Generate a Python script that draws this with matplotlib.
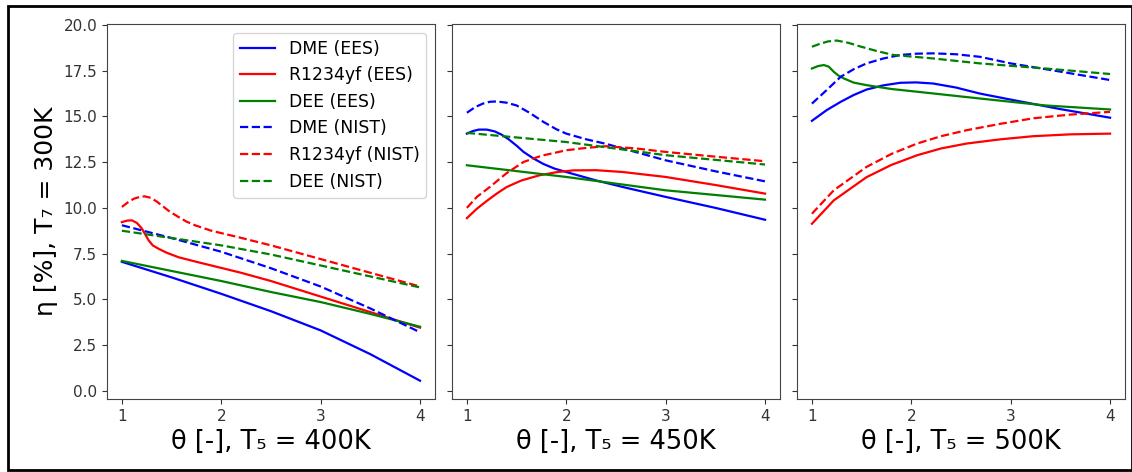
import matplotlib.pyplot as plt
from matplotlib.patches import Rectangle

# T5 = 400K
x400_dme_ees = [1.0, 1.5, 2.0, 2.5, 3.0, 3.5, 4.0]
y400_dme_ees = [7.05, 6.2, 5.3, 4.35, 3.3, 2.0, 0.55]
x400_r_ees = [1.0, 1.05, 1.1, 1.15, 1.2, 1.24, 1.27, 1.31, 1.37, 1.45, 1.57, 1.75, 1.9, 2.2, 2.5, 3.0, 3.5, 4.0]
y400_r_ees = [9.22, 9.3, 9.32, 9.18, 8.88, 8.5, 8.22, 7.95, 7.76, 7.55, 7.3, 7.05, 6.85, 6.45, 6.0, 5.15, 4.3, 3.45]
x400_dee_ees = [1.0, 1.5, 2.0, 2.5, 3.0, 3.5, 4.0]
y400_dee_ees = [7.1, 6.55, 6.0, 5.4, 4.85, 4.2, 3.5]
x400_dme_nist = [1.0, 1.5, 2.0, 2.5, 3.0, 3.5, 4.0]
y400_dme_nist = [9.05, 8.35, 7.6, 6.7, 5.7, 4.5, 3.2]
x400_r_nist = [1.0, 1.06, 1.12, 1.18, 1.23, 1.29, 1.35, 1.4, 1.48, 1.57, 1.65, 1.74, 1.9, 2.17, 2.5, 3.0, 3.5, 4.0]
y400_r_nist = [10.05, 10.3, 10.5, 10.6, 10.63, 10.55, 10.35, 10.14, 9.8, 9.5, 9.25, 9.04, 8.75, 8.4, 7.95, 7.2, 6.45, 5.7]
x400_dee_nist = [1.0, 1.5, 2.0, 2.5, 3.0, 3.5, 4.0]
y400_dee_nist = [8.75, 8.35, 7.95, 7.45, 6.85, 6.25, 5.65]

# T5 = 450K
x450_dme_ees = [1.0, 1.06, 1.12, 1.2, 1.28, 1.35, 1.42, 1.5, 1.57, 1.67, 1.77, 1.88, 2.0, 2.3, 2.6, 3.0, 3.5, 4.0]
y450_dme_ees = [14.06, 14.2, 14.28, 14.28, 14.18, 14.0, 13.75, 13.4, 13.06, 12.7, 12.4, 12.15, 11.96, 11.5, 11.1, 10.6, 10.0, 9.35]
x450_r_ees = [1.0, 1.1, 1.2, 1.3, 1.4, 1.55, 1.73, 1.9, 2.07, 2.3, 2.57, 3.0, 3.5, 4.0]
y450_r_ees = [9.44, 9.95, 10.38, 10.78, 11.14, 11.5, 11.78, 11.95, 12.05, 12.06, 11.96, 11.69, 11.25, 10.78]
x450_dee_ees = [1.0, 2.0, 3.0, 4.0]
y450_dee_ees = [12.33, 11.69, 10.96, 10.45]
x450_dme_nist = [1.0, 1.08, 1.16, 1.23, 1.3, 1.4, 1.5, 1.63, 1.77, 1.9, 2.0, 2.2, 2.4, 3.0, 3.5, 4.0]
y450_dme_nist = [15.2, 15.5, 15.7, 15.8, 15.82, 15.75, 15.6, 15.2, 14.7, 14.3, 14.06, 13.75, 13.5, 12.6, 12.0, 11.45]
x450_r_nist = [1.0, 1.1, 1.23, 1.4, 1.57, 1.75, 2.0, 2.2, 2.4, 2.7, 3.0, 3.5, 4.0]
y450_r_nist = [10.0, 10.6, 11.14, 11.9, 12.51, 12.85, 13.15, 13.28, 13.37, 13.25, 13.06, 12.8, 12.55]
x450_dee_nist = [1.0, 2.0, 3.0, 4.0]
y450_dee_nist = [14.1, 13.6, 12.88, 12.37]

# T5 = 500K
x500_dme_ees = [1.0, 1.15, 1.29, 1.42, 1.55, 1.72, 1.89, 2.05, 2.22, 2.45, 2.69, 3.0, 3.5, 4.0]
y500_dme_ees = [14.76, 15.35, 15.8, 16.17, 16.47, 16.7, 16.84, 16.86, 16.8, 16.58, 16.25, 15.92, 15.4, 14.93]
x500_r_ees = [1.0, 1.22, 1.55, 1.8, 2.06, 2.3, 2.56, 2.9, 3.23, 3.6, 4.0]
y500_r_ees = [9.13, 10.41, 11.68, 12.35, 12.88, 13.25, 13.52, 13.75, 13.92, 14.02, 14.06]
x500_dee_ees = [1.0, 1.06, 1.12, 1.17, 1.22, 1.27, 1.32, 1.42, 1.55, 1.8, 2.06, 2.4, 2.69, 3.35, 4.0]
y500_dee_ees = [17.62, 17.75, 17.81, 17.72, 17.44, 17.22, 17.08, 16.85, 16.71, 16.5, 16.35, 16.15, 15.98, 15.6, 15.38]
x500_dme_nist = [1.0, 1.15, 1.29, 1.42, 1.55, 1.72, 1.89, 2.05, 2.22, 2.45, 2.69, 3.0, 3.5, 4.0]
y500_dme_nist = [15.7, 16.45, 17.17, 17.58, 17.9, 18.17, 18.36, 18.43, 18.45, 18.4, 18.26, 17.9, 17.45, 16.99]
x500_r_nist = [1.0, 1.22, 1.55, 1.8, 2.06, 2.3, 2.56, 2.9, 3.23, 3.6, 4.0]
y500_r_nist = [9.68, 10.96, 12.24, 12.95, 13.52, 13.92, 14.25, 14.6, 14.9, 15.1, 15.25]
x500_dee_nist = [1.0, 1.08, 1.16, 1.25, 1.37, 1.49, 1.65, 1.82, 2.22, 2.69, 3.35, 4.0]
y500_dee_nist = [18.81, 18.97, 19.1, 19.15, 19.02, 18.82, 18.58, 18.36, 18.17, 17.9, 17.62, 17.32]

labels = ['DME (EES)', 'R1234yf (EES)', 'DEE (EES)',
          'DME (NIST)', 'R1234yf (NIST)', 'DEE (NIST)']
colors = ['blue', 'red', 'green', 'blue', 'red', 'green']
styles = ['-', '-', '-', '--', '--', '--']
xlabels = ['θ [-], T₅ = 400K', 'θ [-], T₅ = 450K', 'θ [-], T₅ = 500K']

panels = [
    [(x400_dme_ees, y400_dme_ees), (x400_r_ees, y400_r_ees), (x400_dee_ees, y400_dee_ees),
     (x400_dme_nist, y400_dme_nist), (x400_r_nist, y400_r_nist), (x400_dee_nist, y400_dee_nist)],
    [(x450_dme_ees, y450_dme_ees), (x450_r_ees, y450_r_ees), (x450_dee_ees, y450_dee_ees),
     (x450_dme_nist, y450_dme_nist), (x450_r_nist, y450_r_nist), (x450_dee_nist, y450_dee_nist)],
    [(x500_dme_ees, y500_dme_ees), (x500_r_ees, y500_r_ees), (x500_dee_ees, y500_dee_ees),
     (x500_dme_nist, y500_dme_nist), (x500_r_nist, y500_r_nist), (x500_dee_nist, y500_dee_nist)],
]

fig, axs = plt.subplots(1, 3, figsize=(11.32, 4.72), dpi=100, sharey=True)
fig.subplots_adjust(left=0.0945, right=0.9938, top=0.949, bottom=0.1547, wspace=0.052)

for ax, series, xl in zip(axs, panels, xlabels):
    for (xs, ys), lab, c, ls in zip(series, labels, colors, styles):
        ax.plot(xs, ys, color=c, linestyle=ls, linewidth=1.6, label=lab)
    ax.set_xlim(0.85, 4.15)
    ax.set_xticks([1, 2, 3, 4])
    ax.set_xlabel(xl, fontsize=18.5)
    ax.tick_params(labelsize=11, colors='#333333')
    for sp in ax.spines.values():
        sp.set_color('#444444')

axs[0].set_ylim(-0.45, 20.05)
axs[0].set_yticks([0, 2.5, 5, 7.5, 10, 12.5, 15, 17.5, 20])
axs[0].set_ylabel('η [%], T₇ = 300K', fontsize=18)
axs[0].legend(loc='upper right', fontsize=12.4)

fig.patches.append(Rectangle((0.007, 0.004), 0.993, 0.983, transform=fig.transFigure,
                             fill=False, edgecolor='black', linewidth=2))

fig.savefig('out.png', dpi=100)
